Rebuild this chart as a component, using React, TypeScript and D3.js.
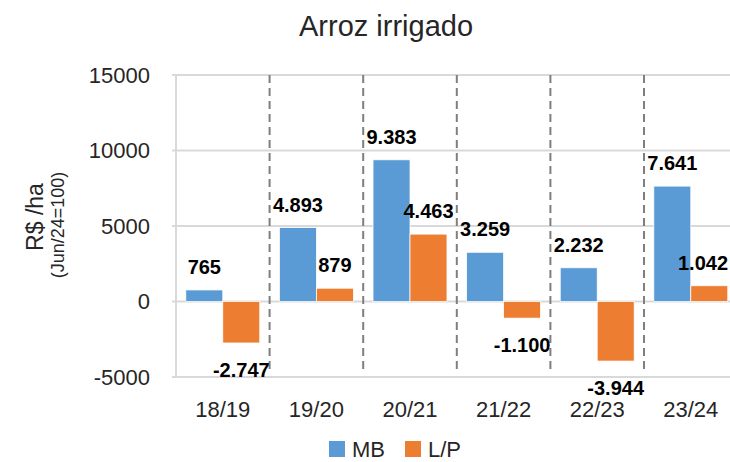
import React from "react";
import * as d3 from "d3";

const categories = ["18/19", "19/20", "20/21", "21/22", "22/23", "23/24"];
const seriesNames = ["MB", "L/P"];
const mbValues = [765, 4893, 9383, 3259, 2232, 7641];
const lpValues = [-2747, 879, 4463, -1100, -3944, 1042];
const yTicks = [-5000, 0, 5000, 10000, 15000];

const colors = ["#5B9BD5", "#ED7D31"];
const font = "'Liberation Sans', Arial, sans-serif";
const W = 730;
const H = 462;

const fmt = d3
  .formatLocale({ decimal: ",", thousands: ".", grouping: [3], currency: ["R$", ""], minus: "-" })
  .format(",d");

const App = () => {
  const x = d3.scaleBand().domain(categories).range([176, 737.6]).padding(0);
  const gap = x.bandwidth() * 0.105;
  const sub = d3.scaleBand().domain(seriesNames).range([gap, x.bandwidth() - gap]).padding(0);
  const y = d3.scaleLinear().domain([-5000, 15000]).range([377, 75]);

  const series = [mbValues, lpValues];

  return (
    <svg
      width={W}
      height={H}
      style={{ position: "absolute", left: 0, top: 0, background: "#fff" }}
      fontFamily={font}
    >
      <text x={386} y={36} textAnchor="middle" fontSize={29} fill="#262626">
        Arroz irrigado
      </text>

      {/* gridlines */}
      {yTicks.map((t) => (
        <g key={t}>
          <line x1={172} x2={740} y1={y(t)} y2={y(t)} stroke="#d9d9d9" strokeWidth={2} />
          <text x={150} y={y(t)} dy="0.36em" textAnchor="end" fontSize={22} fill="#262626">
            {t}
          </text>
        </g>
      ))}
      <line x1={176} x2={176} y1={y(15000)} y2={y(-5000)} stroke="#d9d9d9" strokeWidth={2} />

      {/* dashed separators */}
      {categories.slice(1).map((c) => (
        <line
          key={c}
          x1={x(c)}
          x2={x(c)}
          y1={y(15000)}
          y2={y(-5000) - 4}
          stroke="#7f7f7f"
          strokeWidth={2}
          strokeDasharray="8 5"
        />
      ))}

      {/* bars */}
      {series.map((vals, si) =>
        vals.map((v, i) => {
          const bx = (x(categories[i]) as number) + (sub(seriesNames[si]) as number);
          return (
            <rect
              key={`${si}-${i}`}
              x={bx}
              width={sub.bandwidth()}
              y={Math.min(y(v), y(0))}
              height={Math.abs(y(v) - y(0))}
              fill={colors[si]}
              stroke="#fff"
              strokeWidth={0.75}
            />
          );
        })
      )}

      {/* value labels */}
      {series.map((vals, si) =>
        vals.map((v, i) => {
          const cx = (x(categories[i]) as number) + (sub(seriesNames[si]) as number) + sub.bandwidth() / 2;
          return (
            <text
              key={`l${si}-${i}`}
              x={Math.min(cx, W - 27)}
              y={v >= 0 ? y(v) - 16 : y(v) + 34}
              textAnchor="middle"
              fontSize={20}
              fontWeight="bold"
              fill="#000"
            >
              {fmt(v)}
            </text>
          );
        })
      )}

      {/* category labels */}
      {categories.map((c) => (
        <text
          key={c}
          x={(x(c) as number) + x.bandwidth() / 2}
          y={417}
          textAnchor="middle"
          fontSize={22}
          fill="#262626"
        >
          {c}
        </text>
      ))}

      {/* y axis title */}
      <text transform="translate(43,217) rotate(-90)" textAnchor="middle" fontSize={23} fill="#262626">
        R$ /ha
      </text>
      <text transform="translate(64,225) rotate(-90)" textAnchor="middle" fontSize={18} fill="#262626">
        (Jun/24=100)
      </text>

      {/* legend */}
      {seriesNames.map((s, i) => {
        const lx = i === 0 ? 329 : 405;
        return (
          <g key={s}>
            <rect x={lx} y={441} width={16} height={16} fill={colors[i]} />
            <text x={lx + 23} y={457} fontSize={22} fill="#262626">
              {s}
            </text>
          </g>
        );
      })}
    </svg>
  );
};

export default App;
